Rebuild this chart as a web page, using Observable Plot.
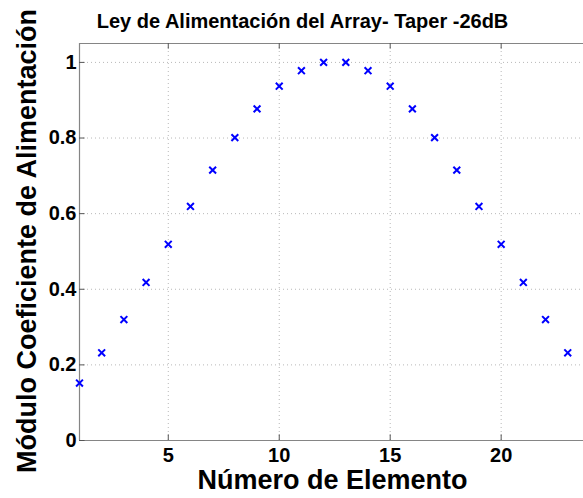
<!DOCTYPE html>
<html>
<head>
<meta charset="utf-8">
<script src="https://cdn.jsdelivr.net/npm/d3@7"></script>
<script src="https://cdn.jsdelivr.net/npm/@observablehq/plot@0.6"></script>
<style>
  body { margin: 0; background: #fff; overflow: hidden; }
  svg { display: block; }
</style>
</head>
<body>
<div id="chart"></div>
<script>
// Array feed law: element index and magnitude of each feed coefficient
const elements = [1, 2, 3, 4, 5, 6, 7, 8, 9, 10, 11, 12, 13, 14, 15, 16, 17, 18, 19, 20, 21, 22, 23];
const magnitude = [0.152, 0.232, 0.320, 0.418, 0.519, 0.619, 0.715, 0.801, 0.877, 0.937, 0.978, 1.000,
                   1.000, 0.978, 0.937, 0.877, 0.801, 0.715, 0.619, 0.519, 0.418, 0.320, 0.232];

// Axis ticks
const xTicks = [5, 10, 15, 20];
const yTicks = [0, 0.2, 0.4, 0.6, 0.8, 1];

// Texts
const titleText = "Ley de Alimentación del Array- Taper -26dB";
const xLabel = "Número de Elemento";
const yLabel = "Módulo Coeficiente de Alimentación";

// Axis limits
const xDomain = [1, 23.71];
const yDomain = [0, 1.05];

const data = elements.map((n, i) => ({n, m: magnitude[i]}));

const axisColor = "#858585";
const gridColor = "#b8b8b8";

const chart = Plot.plot({
  width: 583,
  height: 498,
  marginLeft: 79,
  marginRight: 0,
  marginTop: 43,
  marginBottom: 58,
  style: "font-family: 'Liberation Sans', Arial, sans-serif; font-size: 20px; font-weight: bold; background: #fff; color: #000; overflow: visible;",
  x: {domain: xDomain},
  y: {domain: yDomain},
  marks: [
    // dotted grid
    Plot.gridX(xTicks, {stroke: gridColor, strokeOpacity: 1, strokeDasharray: "1,3"}),
    Plot.gridY(yTicks.filter(d => d > 0), {stroke: gridColor, strokeOpacity: 1, strokeDasharray: "1,3"}),
    // axes box (left, bottom, top)
    Plot.ruleX([xDomain[0]], {stroke: axisColor, strokeWidth: 1.2}),
    Plot.ruleY([yDomain[0], yDomain[1]], {stroke: axisColor, strokeWidth: 1.2}),
    // inward ticks
    Plot.ruleX(xTicks, {x: d => d, y1: 0, y2: 0.015, stroke: "#555"}),
    Plot.ruleX(xTicks, {x: d => d, y1: yDomain[1], y2: yDomain[1] - 0.015, stroke: "#555"}),
    Plot.ruleY(yTicks, {y: d => d, x1: xDomain[0], x2: xDomain[0] + 0.25, stroke: "#555"}),
    // tick labels
    Plot.axisX(xTicks, {tickSize: 0, tickPadding: 7, label: null, fontSize: 20, fontWeight: "bold"}),
    Plot.axisY(yTicks, {tickSize: 0, tickPadding: 3, label: null, fontSize: 20, fontWeight: "bold", tickFormat: d3.format("~g")}),
    // feed coefficients
    Plot.dot(data, {x: "n", y: "m", symbol: "times", r: 3.2, stroke: "#0000ff", strokeWidth: 2}),
    // title and axis labels
    Plot.text([titleText], {frameAnchor: "top", dx: -29, dy: -16, lineAnchor: "bottom", textAnchor: "middle", fontSize: 20, fontWeight: "bold", fill: "#000"}),
    Plot.text([xLabel], {frameAnchor: "bottom", dx: 1, dy: 48, lineAnchor: "bottom", textAnchor: "middle", fontSize: 27, fontWeight: "bold", fill: "#000"}),
    Plot.text([yLabel], {frameAnchor: "left", dx: -44, dy: -1, rotate: -90, lineAnchor: "bottom", textAnchor: "middle", fontSize: 27, fontWeight: "bold", fill: "#000"})
  ]
});

document.getElementById("chart").append(chart);
</script>
</body>
</html>
